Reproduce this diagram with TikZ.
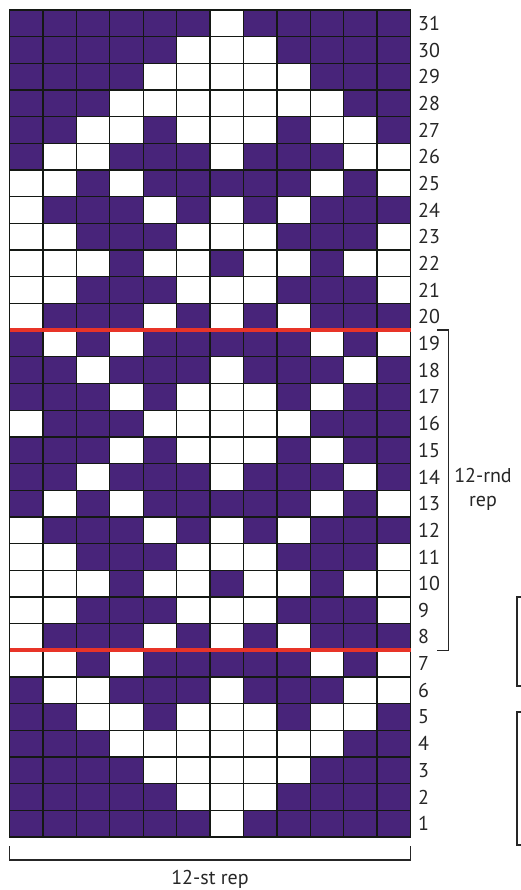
\documentclass[tikz,border=0pt]{standalone}
\usepackage{fontspec}
\setmainfont{PT Sans}
\definecolor{chartpurple}{RGB}{72,36,122}
\definecolor{chartred}{RGB}{232,52,40}
\definecolor{gridline}{RGB}{20,24,20}
\colorlet{cell0}{white}
\colorlet{cell1}{chartpurple}
\usetikzlibrary{positioning}

\begin{document}
\begin{tikzpicture}[x=1pt,y=-1pt,
  cell/.style={draw=gridline, line width=1.3pt},
  rowlbl/.style={anchor=west, inner sep=0pt, font=\fontsize{20}{22}\selectfont, text=black!85},
  replbl/.style={inner sep=0pt, align=center, font=\fontsize{20}{24}\selectfont, text=black!85},
  brk/.style={black!85, line width=1.8pt}]
\useasboundingbox (0,0) rectangle (520,890);
\def\cw{33.42}\def\rh{26.68}
% chart, top row (31) first: 1 = purple, 0 = white
\foreach \cells [count=\r] in {
  {1,1,1,1,1,1,0,1,1,1,1,1},{1,1,1,1,1,0,0,0,1,1,1,1},{1,1,1,1,0,0,0,0,0,1,1,1},
  {1,1,1,0,0,0,0,0,0,0,1,1},{1,1,0,0,1,0,0,0,1,0,0,1},{1,0,0,1,1,1,0,1,1,1,0,0},
  {0,0,1,0,1,1,1,1,1,0,1,0},{0,1,1,1,0,1,0,1,0,1,1,1},{0,0,1,1,1,0,0,0,1,1,1,0},
  {0,0,0,1,0,0,1,0,0,1,0,0},{0,0,1,1,1,0,0,0,1,1,1,0},{0,1,1,1,0,1,0,1,0,1,1,1},
  {1,0,1,0,1,1,1,1,1,0,1,0},{1,1,0,1,1,1,0,1,1,1,0,1},{1,1,1,0,1,0,0,0,1,0,1,1},
  {0,1,1,1,0,0,0,0,0,1,1,1},{1,1,1,0,1,0,0,0,1,0,1,1},{1,1,0,1,1,1,0,1,1,1,0,1},
  {1,0,1,0,1,1,1,1,1,0,1,0},{0,1,1,1,0,1,0,1,0,1,1,1},{0,0,1,1,1,0,0,0,1,1,1,0},
  {0,0,0,1,0,0,1,0,0,1,0,0},{0,0,1,1,1,0,0,0,1,1,1,0},{0,1,1,1,0,1,0,1,0,1,1,1},
  {0,0,1,0,1,1,1,1,1,0,1,0},{1,0,0,1,1,1,0,1,1,1,0,0},{1,1,0,0,1,0,0,0,1,0,0,1},
  {1,1,1,0,0,0,0,0,0,0,1,1},{1,1,1,1,0,0,0,0,0,1,1,1},{1,1,1,1,1,0,0,0,1,1,1,1},
  {1,1,1,1,1,1,0,1,1,1,1,1}}{
  \foreach \v [count=\c] in \cells
    \draw[cell, fill=cell\v] ({9.5+(\c-1)*\cw},{10+(\r-1)*\rh}) rectangle ++(\cw,\rh);
  \pgfmathtruncatemacro\rnd{32-\r}
  \node[rowlbl] (row\rnd) at (418,{10+(\r-0.5)*\rh}) {\rnd};
}
% repeat lines
\draw[chartred, line width=4pt] (9.5,330.2) -- (410.5,330.2);
\draw[chartred, line width=4pt] (9.5,650.3) -- (410.5,650.3);
% 12-rnd bracket
\coordinate (rndtop) at (437,330.2);
\coordinate (rndbot) at (437,650.5);
\draw[brk] (rndtop) -- ++(11.5,0) |- (rndbot);
\node[replbl] (rndrep) at (483,489) {12-rnd\\rep};
% 12-st bracket
\coordinate (stleft) at (9.5,846);
\coordinate (stright) at (410.5,846);
\draw[brk] (stleft) -- ++(0,14) -| (stright);
\node[replbl] (strep) at (210,879) {12-st rep};
% key boxes, cut at the edge
\draw[brk] (522,597) -- (517,597) -- (517,686) -- (522,686);
\draw[brk] (522,712) -- (517,712) -- (517,845) -- (522,845);
\end{tikzpicture}
\end{document}
